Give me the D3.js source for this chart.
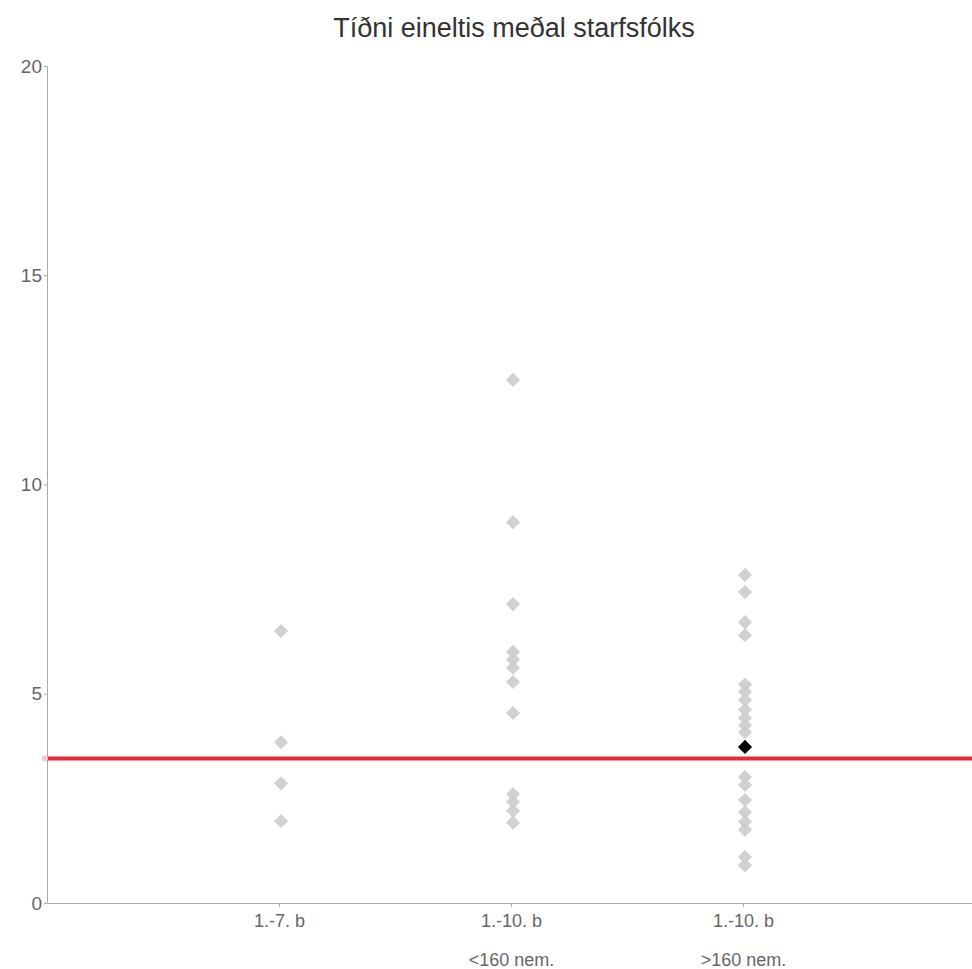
<!DOCTYPE html>
<html>
<head>
<meta charset="utf-8">
<script src="https://cdnjs.cloudflare.com/ajax/libs/d3/7.8.5/d3.min.js"></script>
<style>
    html, body {
        margin: 0;
        padding: 0;
        background: #fff;
        font-family: "Liberation Sans", Arial, sans-serif;
    }
    .axis path, .axis line {
        stroke: #aaa;
    }
    .axis text {
        fill: #666;
        font-size: 18px;
        font-family: "Liberation Sans", Arial, sans-serif;
    }
    .axis.y text {
        font-size: 19px;
    }
</style>
</head>
<body>
<svg id="chart"></svg>
<script>

    var width = 972,
        height = 969;

    // data
    var categories = ["1.-7. b", "1.-10. b", "1.-10. b"];
    var subLabels = ["", "<160 nem.", ">160 nem."];
    var yTicks = [0, 5, 10, 15, 20];

    var group1 = [6.5, 3.84, 2.86, 1.96];
    var group2 = [12.5, 9.1, 7.14, 6.0, 5.82, 5.62, 5.28, 4.54, 2.6, 2.42, 2.2, 1.92];
    var group3 = [7.84, 7.43, 6.71, 6.4, 5.22, 5.05, 4.85, 4.62, 4.42, 4.25, 4.08,
                  3.01, 2.82, 2.46, 2.17, 1.94, 1.75, 1.1, 0.9];
    var highlight = { group: 3, value: 3.73 };
    var average = 3.45;

    var margin = { top: 66, right: -3, bottom: 66, left: 47 };

    var svg = d3.select('#chart')
        .attr('width', width)
        .attr('height', height);

    var x = d3.scaleLinear()
        .domain([0, 4])
        .range([margin.left, width - margin.right]);

    var y = d3.scaleLinear()
        .domain([0, 20])
        .range([height - margin.bottom, margin.top]);

    // title
    svg.append('text')
        .attr('x', 514)
        .attr('y', 37)
        .attr('text-anchor', 'middle')
        .style('font-size', '27px')
        .style('fill', '#333')
        .text('Tíðni eineltis meðal starfsfólks');

    // y axis
    svg.append('g')
        .attr('class', 'axis y')
        .attr('transform', 'translate(' + margin.left + ',0)')
        .call(d3.axisLeft(y).tickValues(yTicks).tickSize(3).tickSizeOuter(0).tickPadding(2));

    // x axis
    var xAxis = svg.append('g')
        .attr('class', 'axis')
        .attr('transform', 'translate(0,' + y(0) + ')')
        .call(d3.axisBottom(x)
            .tickValues([1, 2, 3])
            .tickFormat(function(d) { return categories[d - 1]; })
            .tickSize(4)
            .tickSizeOuter(0)
            .tickPadding(7));

    xAxis.selectAll('.tick')
        .append('text')
        .attr('y', 50)
        .attr('dy', '0.71em')
        .style('fill', '#666')
        .text(function(d) { return subLabels[d - 1]; });

    // points
    var diamond = d3.symbol().type(d3.symbolSquare).size(100);
    var points = [];
    [group1, group2, group3].forEach(function(arr, i) {
        arr.forEach(function(v) { points.push({ group: i + 1, value: v }); });
    });

    svg.append('g')
        .selectAll('path')
        .data(points)
        .join('path')
        .attr('d', diamond)
        .attr('transform', function(d) {
            return 'translate(' + (x(d.group) + 2) + ',' + y(d.value) + ') rotate(45)';
        })
        .attr('fill', '#cccccc')
        .attr('fill-opacity', 0.9);

    // average line
    svg.append('line')
        .attr('x1', x(0))
        .attr('x2', width)
        .attr('y1', y(average))
        .attr('y2', y(average))
        .attr('stroke', '#e8141b')
        .attr('stroke-width', 4)
        .attr('stroke-opacity', 0.9);

    svg.append('circle')
        .attr('cx', x(0) - 2)
        .attr('cy', y(average))
        .attr('r', 3)
        .attr('fill', '#f3c9c9');

    // the school itself
    svg.append('path')
        .attr('d', diamond)
        .attr('transform', 'translate(' + (x(highlight.group) + 2) + ',' + y(highlight.value) + ') rotate(45)')
        .attr('fill', '#000');

</script>
</body>
</html>
